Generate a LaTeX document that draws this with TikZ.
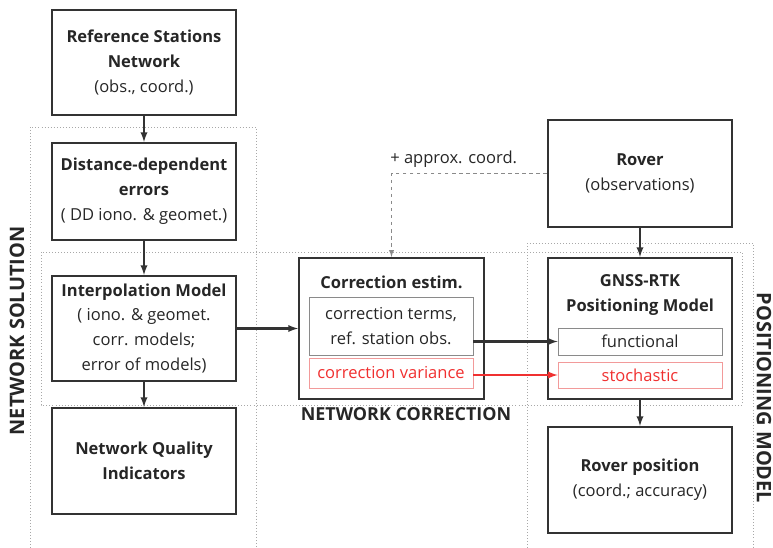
\documentclass[tikz,border=0pt]{standalone}
\usepackage{fontspec}
\setmainfont{Open Sans}
\usetikzlibrary{arrows,positioning}

\definecolor{boxline}{HTML}{333333}
\definecolor{ink}{HTML}{262626}
\definecolor{subline}{HTML}{8A8A8A}
\definecolor{varred}{HTML}{F03030}
\definecolor{varline}{HTML}{F29A9A}
\definecolor{dotgray}{HTML}{A8A8A8}

\begin{document}
\begin{tikzpicture}[
x=0.3mm, y=-0.3mm,
>=latex,
every node/.style={
	font=\fontsize{14.1}{21.3}\selectfont,
	text=ink
},
block/.style={
	draw=boxline,
	line width=1.9pt,
	align=center,
	inner sep=0pt,
	minimum width=55.2mm
},
subblock/.style={
	draw=subline,
	line width=0.7pt,
	align=center,
	inner sep=0pt,
	minimum width=49.2mm
},
varblock/.style={
	subblock,
	draw=varline,
	text=varred
},
flow/.style={
	->,
	draw=boxline,
	line width=1.8pt
},
region/.style={
	draw=dotgray,
	dotted,
	line width=0.6pt
},
regiontext/.style={
	font=\fontsize{17}{20}\selectfont\bfseries
}
]
\useasboundingbox (0,0) rectangle (773,548);

% dotted regions
\draw[region] (30,548) -- (30,127) -- (256,127) -- (256,548);
\draw[region] (41,252) rectangle (742,405);
\draw[region] (527,548) -- (527,243) -- (753,243) -- (753,548);

\node[regiontext,rotate=90] (soltext) at (17,331) {NETWORK SOLUTION};
\node[regiontext,font=\fontsize{15.3}{18}\selectfont\bfseries] (cortext) at (406,414) {NETWORK CORRECTION};
\node[regiontext,rotate=-90] (postext) at (764,398) {POSITIONING MODEL};

% network solution
\node[block,minimum height=31.5mm] (refnet) at (144,62.5)
	{\textbf{Reference Stations}\\\textbf{Network}\\(obs., coord.)};
\node[block,minimum height=29.1mm] (disterr) at (144,191.5)
	{\textbf{Distance-dependent}\\\textbf{errors}\\( DD iono. \& geomet.)};
\node[block,minimum height=31.5mm] (interp) at (144,328.5)
	{\textbf{Interpolation Model}\\( iono. \& geomet.\\corr. models;\\error of models)};
\node[block,minimum height=31.8mm] (quality) at (144,461)
	{\textbf{Network Quality}\\\textbf{Indicators}};

% network correction
\node[block,minimum width=55.5mm,minimum height=42.3mm] (corr) at (391.5,328.5) {};
\node (corrtitle) at (391.5,282) {\textbf{Correction estim.}};
\node[subblock,minimum height=17.4mm] (terms) at (391,326)
	{correction terms,\\ref. station obs.};
\node[varblock,minimum height=9mm] (variance) at (391,373) {correction variance};

% positioning model
\node[block,minimum height=32.1mm] (rover) at (640,173.5)
	{\textbf{Rover}\\(observations)};
\node[block,minimum height=42.3mm] (gnss) at (640,328.5) {};
\node[align=center] (gnsstitle) at (640,295)
	{\textbf{GNSS-RTK}\\\textbf{Positioning Model}};
\node[subblock,minimum height=8.1mm] (functional) at (640,341.5) {functional};
\node[varblock,minimum height=7.8mm] (stochastic) at (640,375) {stochastic};
\node[block,minimum height=31.8mm] (roverpos) at (640,480)
	{\textbf{Rover position}\\(coord.; accuracy)};

% connections
\draw[flow] (refnet) -- (disterr);
\draw[flow] (disterr) -- (interp);
\draw[flow] (interp) -- (quality);
\draw[flow] (interp) -- (corr);
\draw[flow] (terms.east |- functional) -- (functional.west);
\draw[flow,draw=varred] (variance.east |- stochastic) -- (stochastic.west);
\draw[flow] (rover) -- (gnss);
\draw[flow] (gnss) -- (roverpos);
\draw[->,draw=subline,dashed,line width=1pt] (rover.west) -| node[pos=0.3,above=1pt] (approx) {+ approx. coord.} (corr.north);
\end{tikzpicture}
\end{document}
